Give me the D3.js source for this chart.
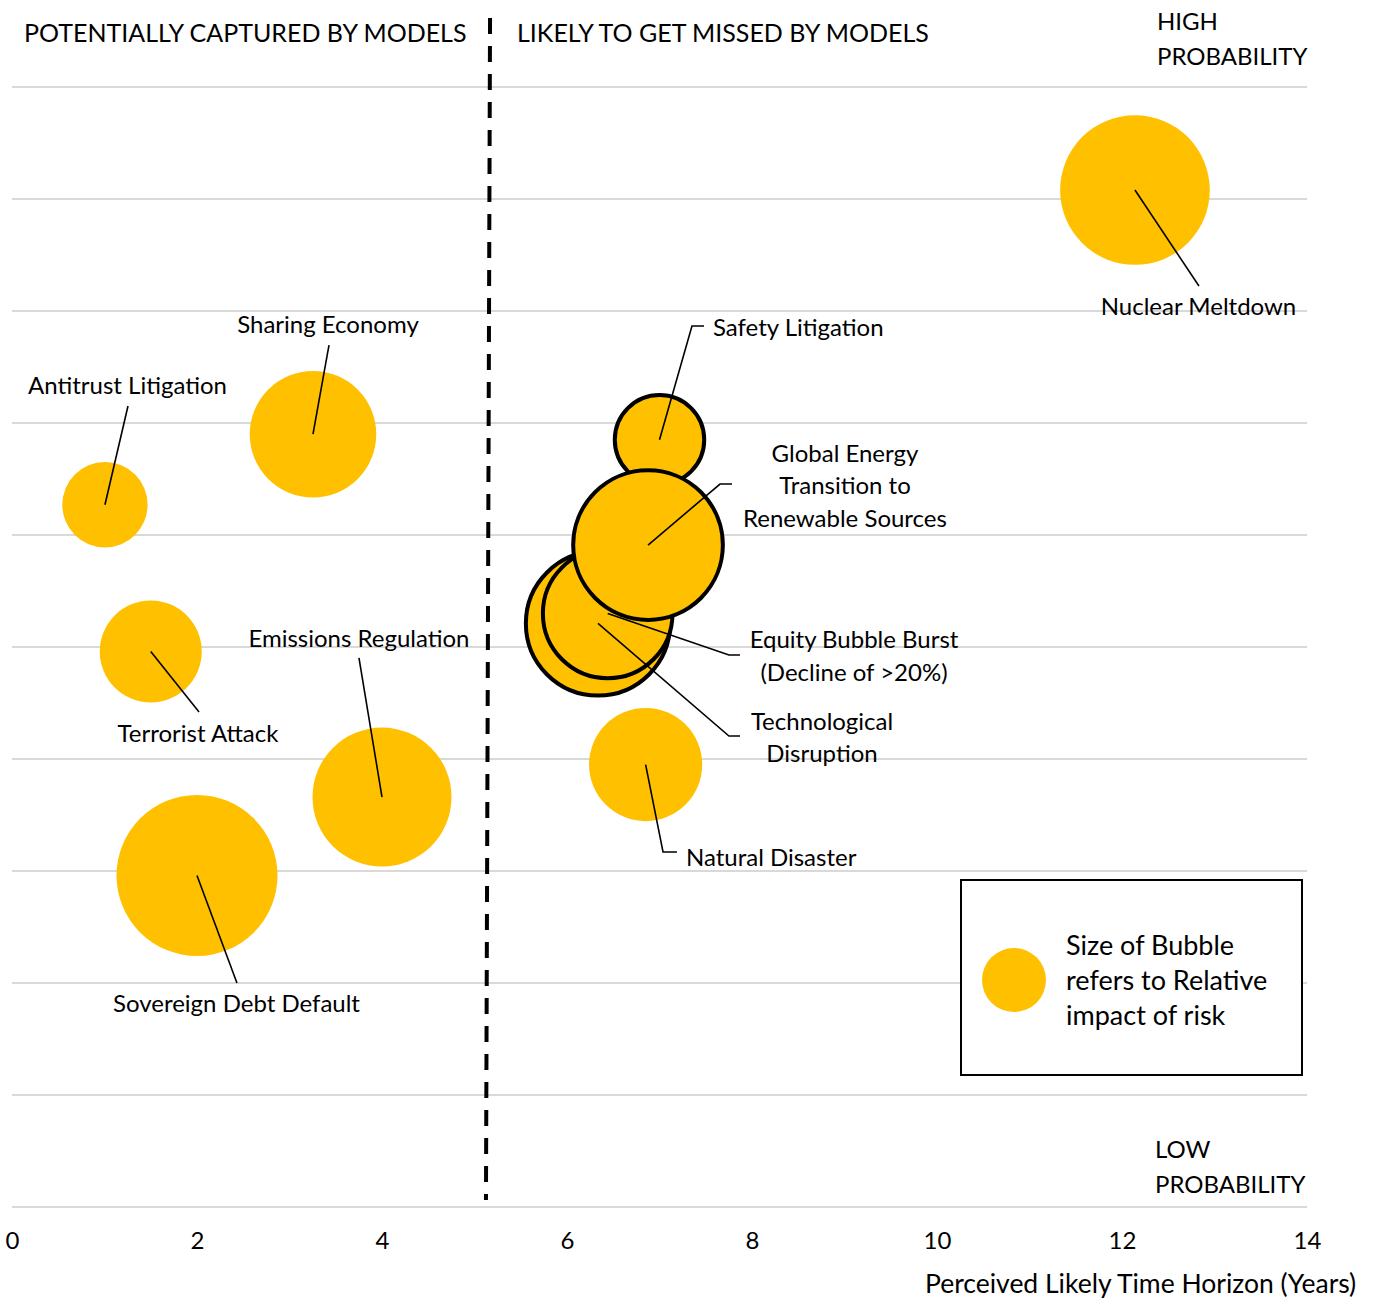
<!DOCTYPE html>
<html>
<head>
<meta charset="utf-8">
<script src="https://cdn.jsdelivr.net/npm/d3@7/dist/d3.min.js"></script>
<style>
  html, body { margin: 0; padding: 0; background: #fff; }
  svg text { font-family: Lato, "Open Sans", sans-serif; fill: #000; }
</style>
</head>
<body>
<svg id="chart" width="1389" height="1306"></svg>
<script>
// ---------------- DATA ----------------
const risks = ["Nuclear Meltdown", "Safety Litigation", "Technological Disruption",
  "Equity Bubble Burst (Decline of >20%)", "Global Energy Transition to Renewable Sources",
  "Natural Disaster", "Sharing Economy", "Antitrust Litigation", "Terrorist Attack",
  "Emissions Regulation", "Sovereign Debt Default"];
const horizonYears = [12.14, 7.0, 6.335, 6.44, 6.876, 6.85, 3.254, 1.005, 1.50, 4.0, 2.0];
const probability  = [9.08, 6.85, 5.21, 5.30, 5.91, 3.95, 6.90, 6.27, 4.96, 3.66, 2.96];
const impact       = [56, 20, 52, 42, 56, 32, 40, 18.2, 26, 48.3, 64.8];
const xTicks = [0, 2, 4, 6, 8, 10, 12, 14];
const yGrid  = [0, 1, 2, 3, 4, 5, 6, 7, 8, 9, 10];
const xTitle = "Perceived Likely Time Horizon (Years)";
const leftHeader = "POTENTIALLY CAPTURED BY MODELS";
const rightHeader = "LIKELY TO GET MISSED BY MODELS";
const highLabel = ["HIGH", "PROBABILITY"];
const lowLabel = ["LOW", "PROBABILITY"];
const legendText = ["Size of Bubble", "refers to Relative", "impact of risk"];
const modelThreshold = [5.168, 5.124]; // top / bottom x of divider (years)

// label text lines (per risk, same order)
const labelLines = [
  ["Nuclear Meltdown"], ["Safety Litigation"], ["Technological", "Disruption"],
  ["Equity Bubble Burst", "(Decline of >20%)"], ["Global Energy", "Transition to", "Renewable Sources"],
  ["Natural Disaster"], ["Sharing Economy"], ["Antitrust Litigation"], ["Terrorist Attack"],
  ["Emissions Regulation"], ["Sovereign Debt Default"]];

// ---------------- LAYOUT (annotation placement, data units) ----------------
const annot = [
  {pts: [[12.832, 8.223]],                 tx: 12.827, ty: 7.964, anchor: "middle"},
  {pts: [[7.351, 7.866], [7.481, 7.866]],  tx: 7.578,  ty: 7.777, anchor: "start"},
  {pts: [[7.751, 4.205], [7.870, 4.205]],  tx: 8.757,  ty: 4.259, anchor: "middle"},
  {pts: [[7.751, 4.929], [7.870, 4.929]],  tx: 9.103,  ty: 4.991, anchor: "middle"},
  {pts: [[7.654, 6.455], [7.784, 6.455]],  tx: 9.005,  ty: 6.652, anchor: "middle"},
  {pts: [[7.038, 3.170], [7.189, 3.170]],  tx: 7.286,  ty: 3.045, anchor: "start"},
  {pts: [[3.427, 7.696]],                  tx: 3.416,  ty: 7.804, anchor: "middle"},
  {pts: [[1.254, 7.152]],                  tx: 1.249,  ty: 7.259, anchor: "middle"},
  {pts: [[2.022, 4.420]],                  tx: 2.011,  ty: 4.152, anchor: "middle"},
  {pts: [[3.751, 4.902]],                  tx: 3.751,  ty: 5.000, anchor: "middle"},
  {pts: [[2.432, 2.000]],                  tx: 2.427,  ty: 1.741, anchor: "middle"}
];
const outlined = new Set(["Safety Litigation", "Technological Disruption",
  "Equity Bubble Burst (Decline of >20%)", "Global Energy Transition to Renewable Sources"]);

const GOLD = "#FFC000";
const FONT = 24;

const svg = d3.select("#chart");
const x = d3.scaleLinear().domain([0, 14]).range([12, 1307]);
const y = d3.scaleLinear().domain([0, 10]).range([1207, 87]);
const r = d3.scaleSqrt().domain([0, 64]).range([0, 80]);

// gridlines
svg.append("g").selectAll("line").data(yGrid).join("line")
  .attr("x1", x(0)).attr("x2", x(14))
  .attr("y1", d => y(d)).attr("y2", d => y(d))
  .attr("stroke", "#d9d9d9").attr("stroke-width", 2);

// x axis labels
const ax = svg.append("g").attr("transform", `translate(0,${y(0)})`)
  .call(d3.axisBottom(x).tickValues(xTicks).tickSize(0).tickFormat(d3.format("d")));
ax.select(".domain").remove();
ax.selectAll("text").attr("y", 42).attr("dy", 0).attr("fill", "#000")
  .style("font-family", "Lato, sans-serif").style("font-size", FONT + "px");

svg.append("text").attr("x", 925).attr("y", 1293).style("font-size", "26.5px").text(xTitle);

// divider
svg.append("line")
  .attr("x1", x(modelThreshold[0])).attr("y1", 18)
  .attr("x2", x(modelThreshold[1])).attr("y2", 1200)
  .attr("stroke", "#000").attr("stroke-width", 4).attr("stroke-dasharray", "16,12");

// headers
svg.append("text").attr("x", 24).attr("y", 42).style("font-size", "25px").text(leftHeader);
svg.append("text").attr("x", 517).attr("y", 42).style("font-size", "25px").text(rightHeader);
highLabel.forEach((t, i) => svg.append("text").attr("x", 1157).attr("y", 30 + i * 35)
  .style("font-size", FONT + "px").text(t));
lowLabel.forEach((t, i) => svg.append("text").attr("x", 1155).attr("y", 1158 + i * 35)
  .style("font-size", FONT + "px").text(t));

// bubbles
const data = risks.map((name, i) => ({name, x: horizonYears[i], y: probability[i], v: impact[i], i}));
svg.append("g").selectAll("circle").data(data).join("circle")
  .attr("cx", d => x(d.x)).attr("cy", d => y(d.y)).attr("r", d => r(d.v))
  .attr("fill", GOLD)
  .attr("stroke", d => outlined.has(d.name) ? "#000" : "none")
  .attr("stroke-width", 4);

// leaders
const lineGen = d3.line().x(p => x(p[0])).y(p => y(p[1]));
svg.append("g").selectAll("path").data(data).join("path")
  .attr("d", d => lineGen([[d.x, d.y], ...annot[d.i].pts]))
  .attr("fill", "none").attr("stroke", "#000").attr("stroke-width", 1.6);

// labels
const lg = svg.append("g");
data.forEach(d => {
  const a = annot[d.i];
  const t = lg.append("text").attr("x", x(a.tx)).attr("y", y(a.ty))
    .attr("text-anchor", a.anchor).style("font-size", FONT + "px");
  labelLines[d.i].forEach((line, k) => {
    t.append("tspan").attr("x", x(a.tx)).attr("dy", k === 0 ? 0 : 32.5).text(line);
  });
});

// legend
const leg = svg.append("g");
leg.append("rect").attr("x", 961).attr("y", 880).attr("width", 341).attr("height", 195)
  .attr("fill", "#fff").attr("stroke", "#000").attr("stroke-width", 2);
leg.append("circle").attr("cx", 1014).attr("cy", 980).attr("r", 32).attr("fill", GOLD);
legendText.forEach((t, i) => leg.append("text").attr("x", 1066).attr("y", 955 + i * 35)
  .style("font-size", "27px").text(t));
</script>
</body>
</html>
